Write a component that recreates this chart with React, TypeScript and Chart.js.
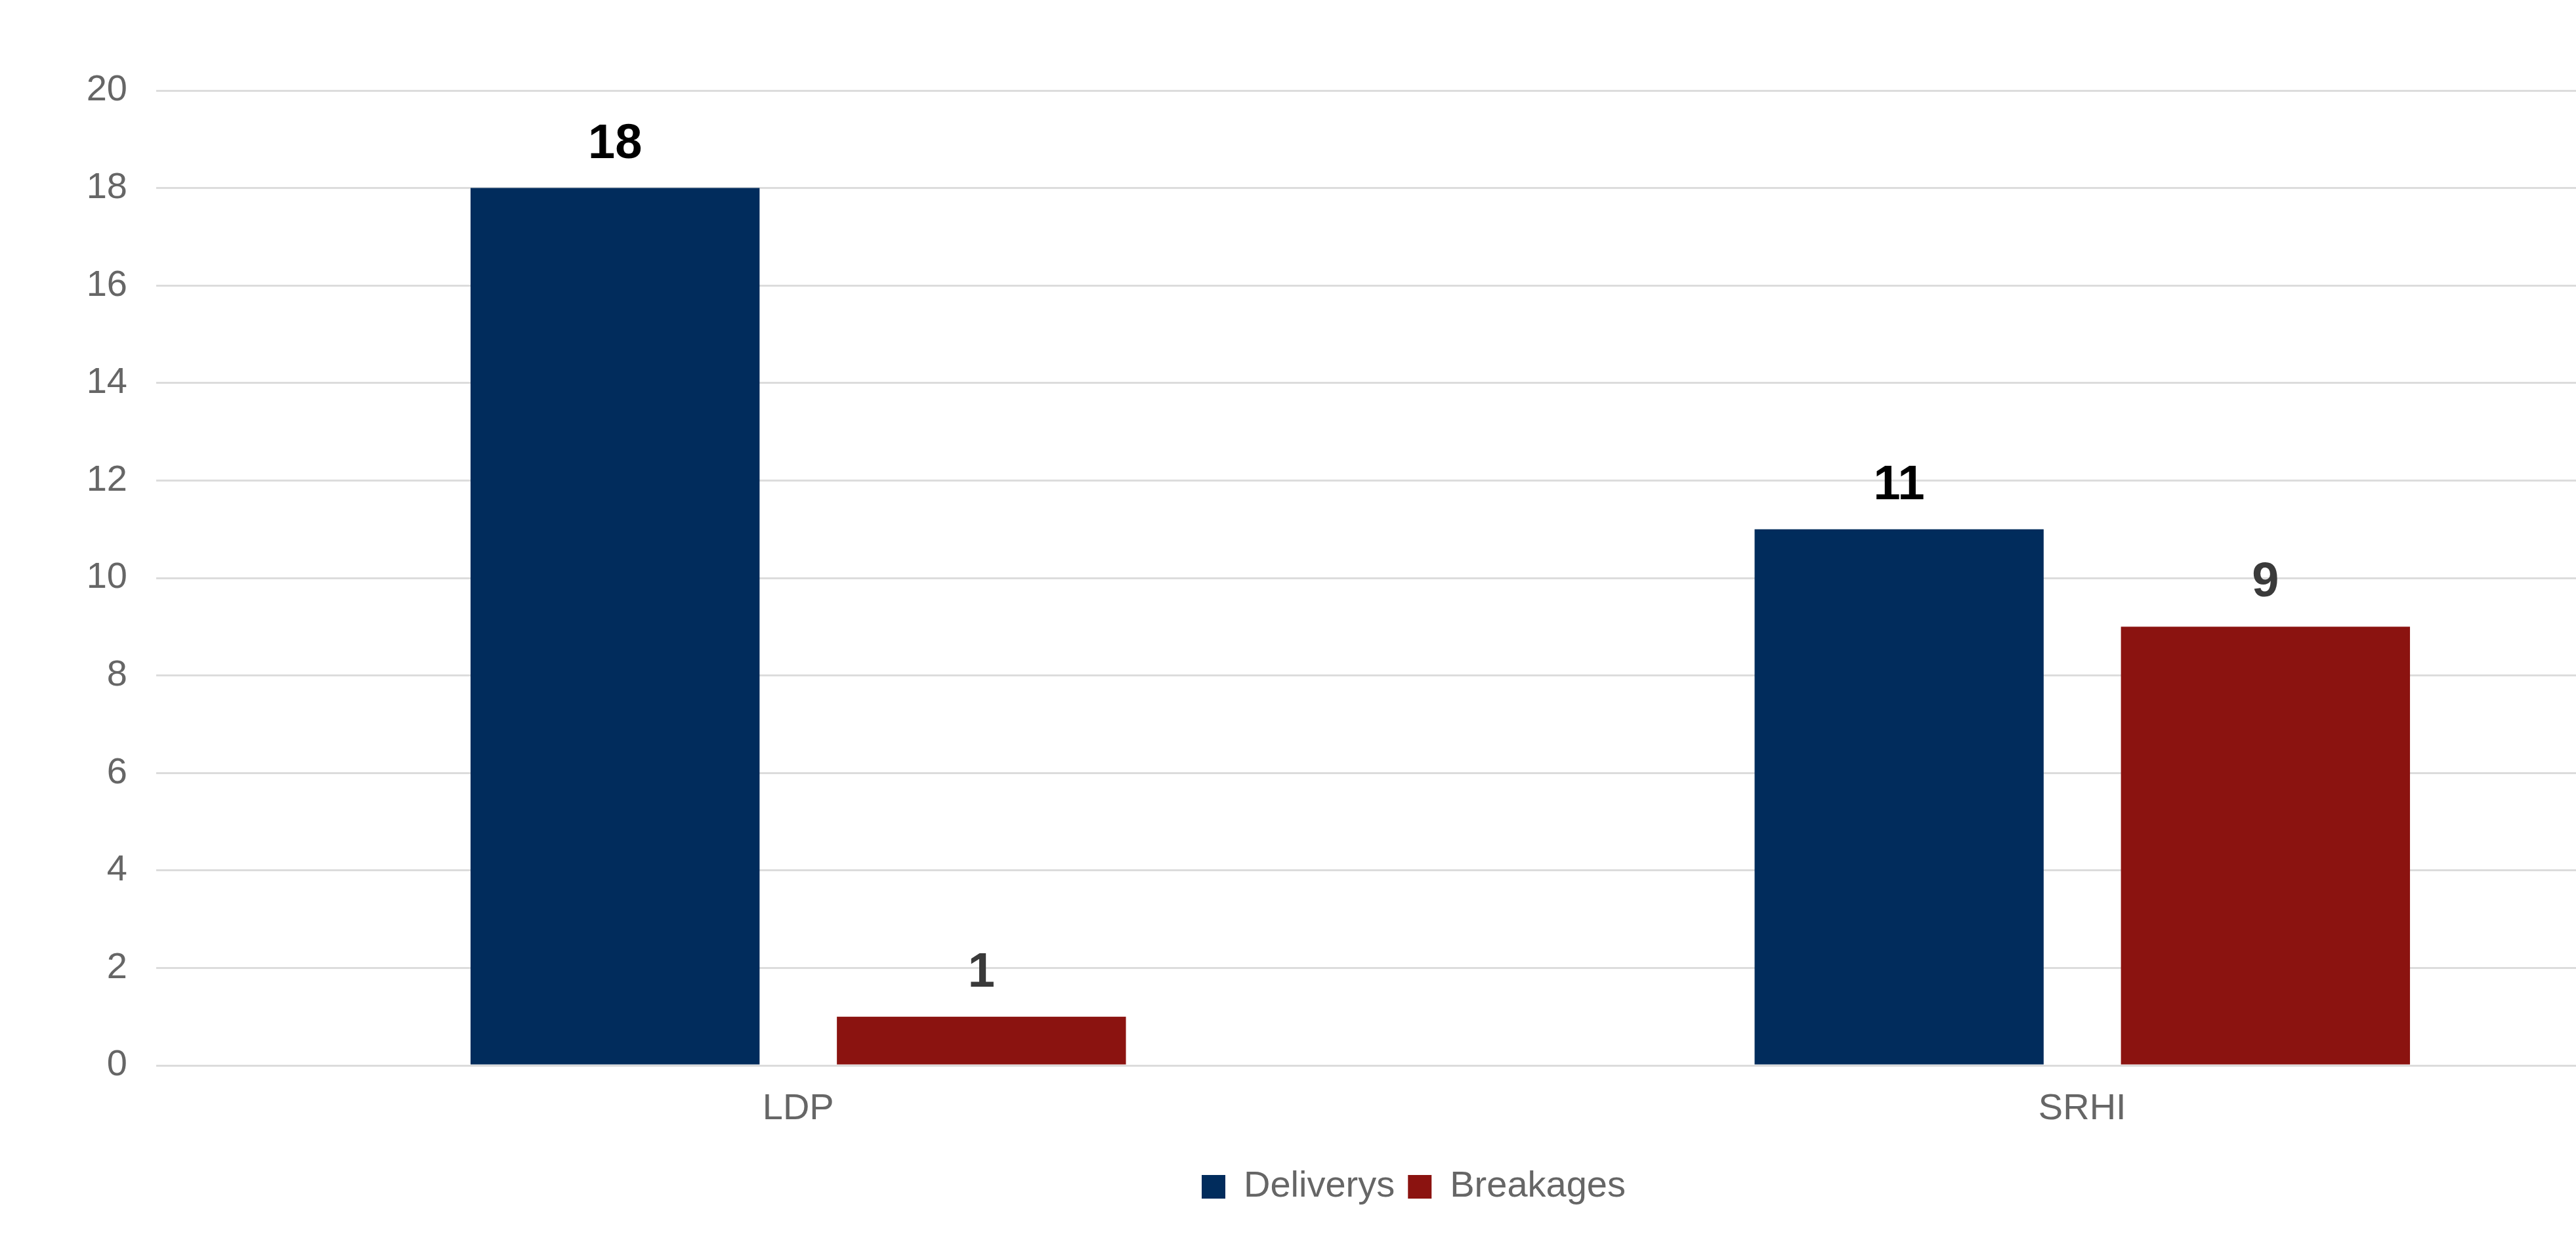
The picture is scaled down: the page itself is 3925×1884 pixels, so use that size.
import { useEffect, useRef } from "react";
import { Chart, registerables } from "chart.js";

Chart.register(...registerables);

const categories: string[] = ["LDP", "SRHI"];
const seriesNames: string[] = ["Deliverys", "Breakages"];
const deliverys: number[] = [18, 11];
const breakages: number[] = [1, 9];
const yTicks: number[] = [0, 2, 4, 6, 8, 10, 12, 14, 16, 18, 20];

const barColors = ["#012c5c", "#8b1310"];
const valueColors = ["#000000", "#3a3a3a"];
const FONT = "'Liberation Sans', Arial, sans-serif";

// draws the number above each bar
const valueLabels = {
    id: "valueLabels",
    afterDatasetsDraw(chart: any) {
        const { ctx } = chart;
        chart.data.datasets.forEach((ds: any, i: number) => {
            const meta = chart.getDatasetMeta(i);
            meta.data.forEach((bar: any, j: number) => {
                ctx.save();
                ctx.font = `bold 74px ${FONT}`;
                ctx.fillStyle = valueColors[i];
                ctx.textAlign = "center";
                ctx.textBaseline = "alphabetic";
                ctx.fillText(String(ds.data[j]), bar.x, bar.y - 46);
                ctx.restore();
            });
        });
    },
};

export default function App() {
    const canvasRef = useRef<HTMLCanvasElement | null>(null);
    const chartRef = useRef<Chart | null>(null);

    useEffect(() => {
        if (!canvasRef.current) return;
        if (chartRef.current) chartRef.current.destroy();

        Chart.defaults.font.family = FONT;

        chartRef.current = new Chart(canvasRef.current, {
            type: "bar",
            data: {
                labels: categories,
                datasets: [
                    {
                        label: seriesNames[0],
                        data: deliverys,
                        backgroundColor: barColors[0],
                        borderWidth: 0,
                    },
                    {
                        label: seriesNames[1],
                        data: breakages,
                        backgroundColor: barColors[1],
                        borderWidth: 0,
                    },
                ],
            },
            options: {
                animation: false,
                responsive: true,
                maintainAspectRatio: false,
                categoryPercentage: 0.5706,
                barPercentage: 0.789,
                layout: { padding: { top: 138, left: 0, right: 0, bottom: 37 } },
                plugins: {
                    legend: {
                        position: "bottom",
                        labels: {
                            boxWidth: 36,
                            boxHeight: 36,
                            padding: 20,
                            color: "#666666",
                            font: { size: 56 },
                        },
                    },
                    tooltip: { enabled: false },
                },
                scales: {
                    x: {
                        grid: { display: false },
                        border: { display: false },
                        ticks: { color: "#666666", font: { size: 56 }, padding: 25 },
                        afterFit: (scale: any) => {
                            scale.height = 137;
                        },
                    },
                    y: {
                        min: 0,
                        max: 20,
                        afterBuildTicks: (scale: any) => {
                            scale.ticks = yTicks.map((v) => ({ value: v }));
                        },
                        grid: { color: "#dcdcdc", lineWidth: 3, drawTicks: false },
                        border: { display: false },
                        ticks: { color: "#666666", font: { size: 56 }, padding: 44 },
                        afterFit: (scale: any) => {
                            scale.width = 238;
                        },
                    },
                    // empty spacer on the right, past the visible edge
                    spacer: {
                        type: "linear",
                        position: "right",
                        grid: { display: false },
                        border: { display: false },
                        ticks: { display: false },
                        afterFit: (scale: any) => {
                            scale.width = 157;
                        },
                    },
                },
            },
            plugins: [valueLabels],
        });

        return () => {
            chartRef.current?.destroy();
            chartRef.current = null;
        };
    }, []);

    return (
        <div
            style={{
                position: "fixed",
                left: 0,
                top: 0,
                width: "100vw",
                height: "100vh",
                overflow: "hidden",
                background: "#ffffff",
            }}
        >
            <div style={{ position: "relative", width: 4308, height: 1884 }}>
                <canvas ref={canvasRef} />
            </div>
        </div>
    );
}
